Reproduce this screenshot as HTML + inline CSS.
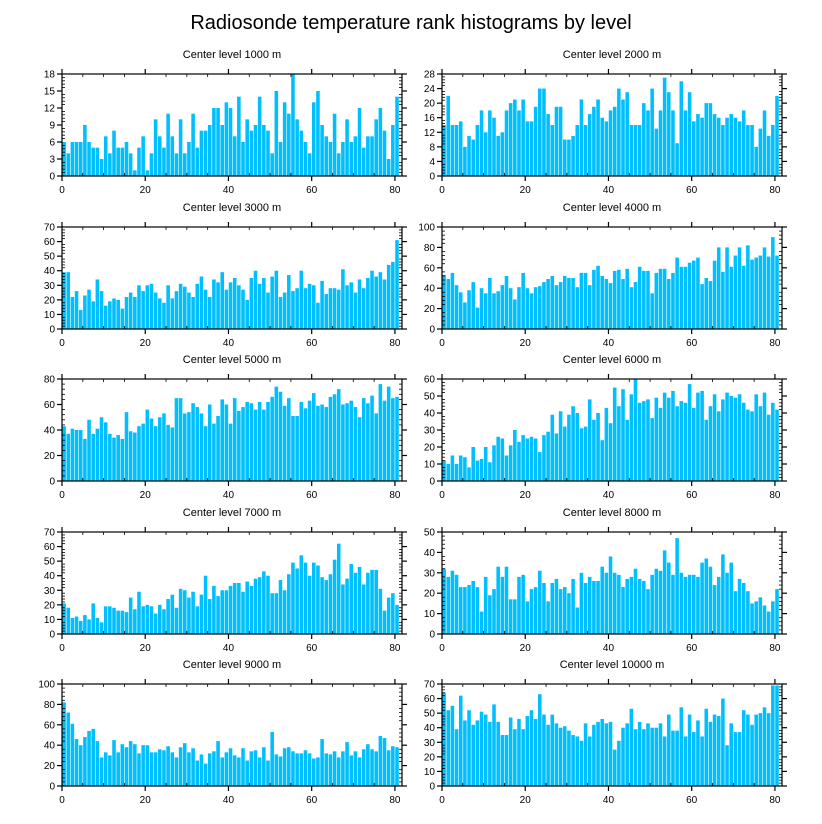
<!DOCTYPE html>
<html><head><meta charset="utf-8"><style>
html,body{margin:0;padding:0;background:#fff}
svg{display:block;font-family:"Liberation Sans",sans-serif}
</style></head><body>
<svg id="chart" width="822" height="824" viewBox="0 0 822 824">
<text x="411" y="29" font-size="20" text-anchor="middle">Radiosonde temperature rank histograms by level</text>
</svg>
<script>
const titles = ["Center level 1000 m","Center level 2000 m","Center level 3000 m","Center level 4000 m","Center level 5000 m","Center level 6000 m","Center level 7000 m","Center level 8000 m","Center level 9000 m","Center level 10000 m"];
const yMaxes = [18,28,70,100,80,60,70,50,100,70];
const yMajorSteps = [3,4,10,20,20,10,10,10,20,10];
const xTickLabels = [0,20,40,60,80];
const v1000 = [6,4,6,6,6,9,6,5,5,3,7,4,8,5,5,6,4,1,5,7,1,4,10,7,5,11,7,4,10,4,6,11,5,8,8,9,12,12,9,13,12,7,14,6,10,8,9,14,9,8,4,15,6,13,11,18,10,8,6,4,13,15,9,7,6,11,4,6,10,6,7,12,5,7,7,10,12,8,3,9,14];
const v2000 = [14,22,14,14,15,8,11,10,14,18,12,18,16,11,12,18,20,21,18,21,15,15,19,24,24,17,14,19,19,10,10,11,14,21,14,17,19,21,16,15,18,19,24,21,23,14,14,14,20,18,24,13,18,27,23,18,9,26,18,23,15,17,16,20,20,17,16,14,16,17,16,15,18,14,14,8,13,18,11,14,22];
const v3000 = [39,39,22,26,13,23,27,19,34,26,16,19,21,20,14,22,25,22,30,26,30,31,25,21,18,30,21,26,31,29,25,22,31,36,27,22,34,32,39,27,32,35,30,27,20,35,40,31,35,25,36,40,22,25,37,26,28,40,28,31,30,18,33,24,28,28,27,41,30,32,25,34,28,35,40,36,39,34,44,46,61];
const v4000 = [53,49,55,43,36,26,38,46,21,40,35,50,35,37,43,52,40,29,41,55,40,35,41,42,46,49,52,43,46,52,50,50,41,55,55,43,58,62,52,49,45,57,58,49,59,41,46,61,57,57,35,55,59,59,49,55,70,61,61,65,67,70,44,50,47,67,80,56,80,61,72,80,62,82,68,70,72,80,71,90,72];
const v5000 = [43,37,41,40,40,33,48,37,41,50,46,37,34,36,33,54,39,38,43,45,56,49,43,50,53,44,42,65,65,53,54,61,58,53,43,60,45,51,64,60,45,65,55,58,62,61,56,62,56,62,66,74,70,59,65,51,51,62,57,63,69,59,60,58,66,68,72,60,61,63,58,50,65,61,67,53,76,63,74,65,66];
const v6000 = [12,10,15,10,15,14,8,20,12,13,20,11,21,26,25,15,21,30,23,27,25,26,25,17,27,29,39,28,41,32,39,44,40,31,32,48,36,40,24,43,34,55,44,54,36,51,60,46,47,48,37,49,43,52,49,53,44,47,46,57,43,52,53,36,44,51,41,48,52,50,49,51,46,42,41,51,44,52,39,46,42];
const v7000 = [21,18,11,12,9,13,10,21,11,8,19,19,18,16,16,15,25,17,29,19,20,19,14,20,17,24,27,18,31,30,25,29,19,27,40,24,33,26,30,30,33,35,35,29,36,33,38,39,43,40,28,28,37,30,41,49,45,54,49,40,49,47,39,37,41,51,62,34,38,48,42,46,34,42,44,44,31,16,25,28,20];
const v8000 = [32,28,31,29,23,23,24,26,23,11,28,19,22,33,28,33,17,17,28,29,16,22,23,31,25,16,25,27,22,23,20,27,13,30,25,28,26,26,33,30,38,30,29,23,27,28,32,27,26,22,29,32,31,41,35,29,47,30,28,29,29,28,35,37,33,24,28,39,30,35,21,27,25,21,15,16,18,14,11,16,22];
const v9000 = [82,72,61,46,40,48,54,56,44,28,33,30,45,33,41,38,44,41,32,40,40,33,33,36,35,39,33,28,38,42,33,37,25,31,22,32,34,44,28,33,37,30,28,37,25,34,35,28,38,25,53,31,29,37,38,34,32,32,35,32,27,28,46,32,31,34,28,34,43,30,34,28,36,41,36,34,49,47,35,39,38];
const v10000 = [64,52,55,39,62,45,52,42,45,51,49,44,56,44,35,35,47,39,46,39,48,52,46,63,49,42,49,43,40,41,38,35,34,31,43,34,42,44,46,43,44,25,31,40,43,53,39,44,39,43,40,40,43,34,49,38,38,54,34,49,37,45,34,53,44,49,48,60,28,43,37,37,52,49,42,49,50,54,50,69,69];
const series = [v1000,v2000,v3000,v4000,v5000,v6000,v7000,v8000,v9000,v10000];

const NS = "http://www.w3.org/2000/svg";
const svg = document.getElementById('chart');
const X_MAX = 81.7;
const colLeft = [62, 442], colW = 340;
const rowTop = [74, 227, 379, 532, 684], rowH = 102;
function mk(tag, attrs, parent){const e=document.createElementNS(NS,tag);for(const k in attrs)e.setAttribute(k,attrs[k]);(parent||svg).appendChild(e);return e;}

series.forEach((vals, p) => {
  const col = p % 2, row = Math.floor(p / 2);
  const x0 = colLeft[col], y0 = rowTop[row], yb = y0 + rowH;
  const yMax = yMaxes[p], step = yMajorSteps[p];
  const xs = v => x0 + v / X_MAX * colW;
  const ys = v => yb - v / yMax * rowH;
  const g = mk('g', {});
  
  
  const t = mk('text', {x: x0 + colW / 2, y: y0 - 16, 'font-size': 11, 'text-anchor': 'middle'}, g);
  t.textContent = titles[p];
  
  
  vals.forEach((v, i) => {
    const r = mk('rect', {x: xs(i) + 0.3, y: ys(v), width: xs(i + 1) - xs(i) - 0.6, height: yb - ys(v), fill: '#00bfff'}, g);
    
    
  });
  const fr = mk('rect', {x: x0, y: y0, width: colW, height: rowH, fill: 'none', stroke: '#000', 'stroke-width': 1.2}, g);
  
  
  // x ticks
  for (let v = 0; v <= 80; v += 5) {
    const major = v % 20 === 0, x = xs(v);
    if (major) {
      mk('line', {x1: x, x2: x, y1: yb, y2: yb + 5, stroke: '#000', 'stroke-width': 1.2}, g);
      mk('line', {x1: x, x2: x, y1: y0, y2: y0 - 5, stroke: '#000', 'stroke-width': 1.2}, g);
    } else {
      mk('line', {x1: x, x2: x, y1: yb, y2: yb - 3, stroke: '#000', 'stroke-width': 0.8}, g);
      mk('line', {x1: x, x2: x, y1: y0, y2: y0 + 3, stroke: '#000', 'stroke-width': 0.8}, g);
    }
  }
  xTickLabels.forEach(v => {
    const tl = mk('text', {x: xs(v), y: yb + 17, 'font-size': 10, 'text-anchor': 'middle'}, g);
    tl.textContent = v;
    
    
  });
  // y ticks
  const minor = step / 5;
  for (let k = 0; k <= Math.round(yMax / minor); k++) {
    const v = k * minor, y = ys(v), major = k % 5 === 0;
    if (major) {
      mk('line', {x1: x0, x2: x0 - 5, y1: y, y2: y, stroke: '#000', 'stroke-width': 1.2}, g);
      mk('line', {x1: x0 + colW, x2: x0 + colW + 5, y1: y, y2: y, stroke: '#000', 'stroke-width': 1.2}, g);
      const yl = mk('text', {x: x0 - 7, y: y + 3.5, 'font-size': 10, 'text-anchor': 'end'}, g);
      yl.textContent = Math.round(v);
      
      
    } else {
      mk('line', {x1: x0, x2: x0 + 3, y1: y, y2: y, stroke: '#000', 'stroke-width': 0.8}, g);
      mk('line', {x1: x0 + colW, x2: x0 + colW - 3, y1: y, y2: y, stroke: '#000', 'stroke-width': 0.8}, g);
    }
  }
});
</script>
</body></html>
